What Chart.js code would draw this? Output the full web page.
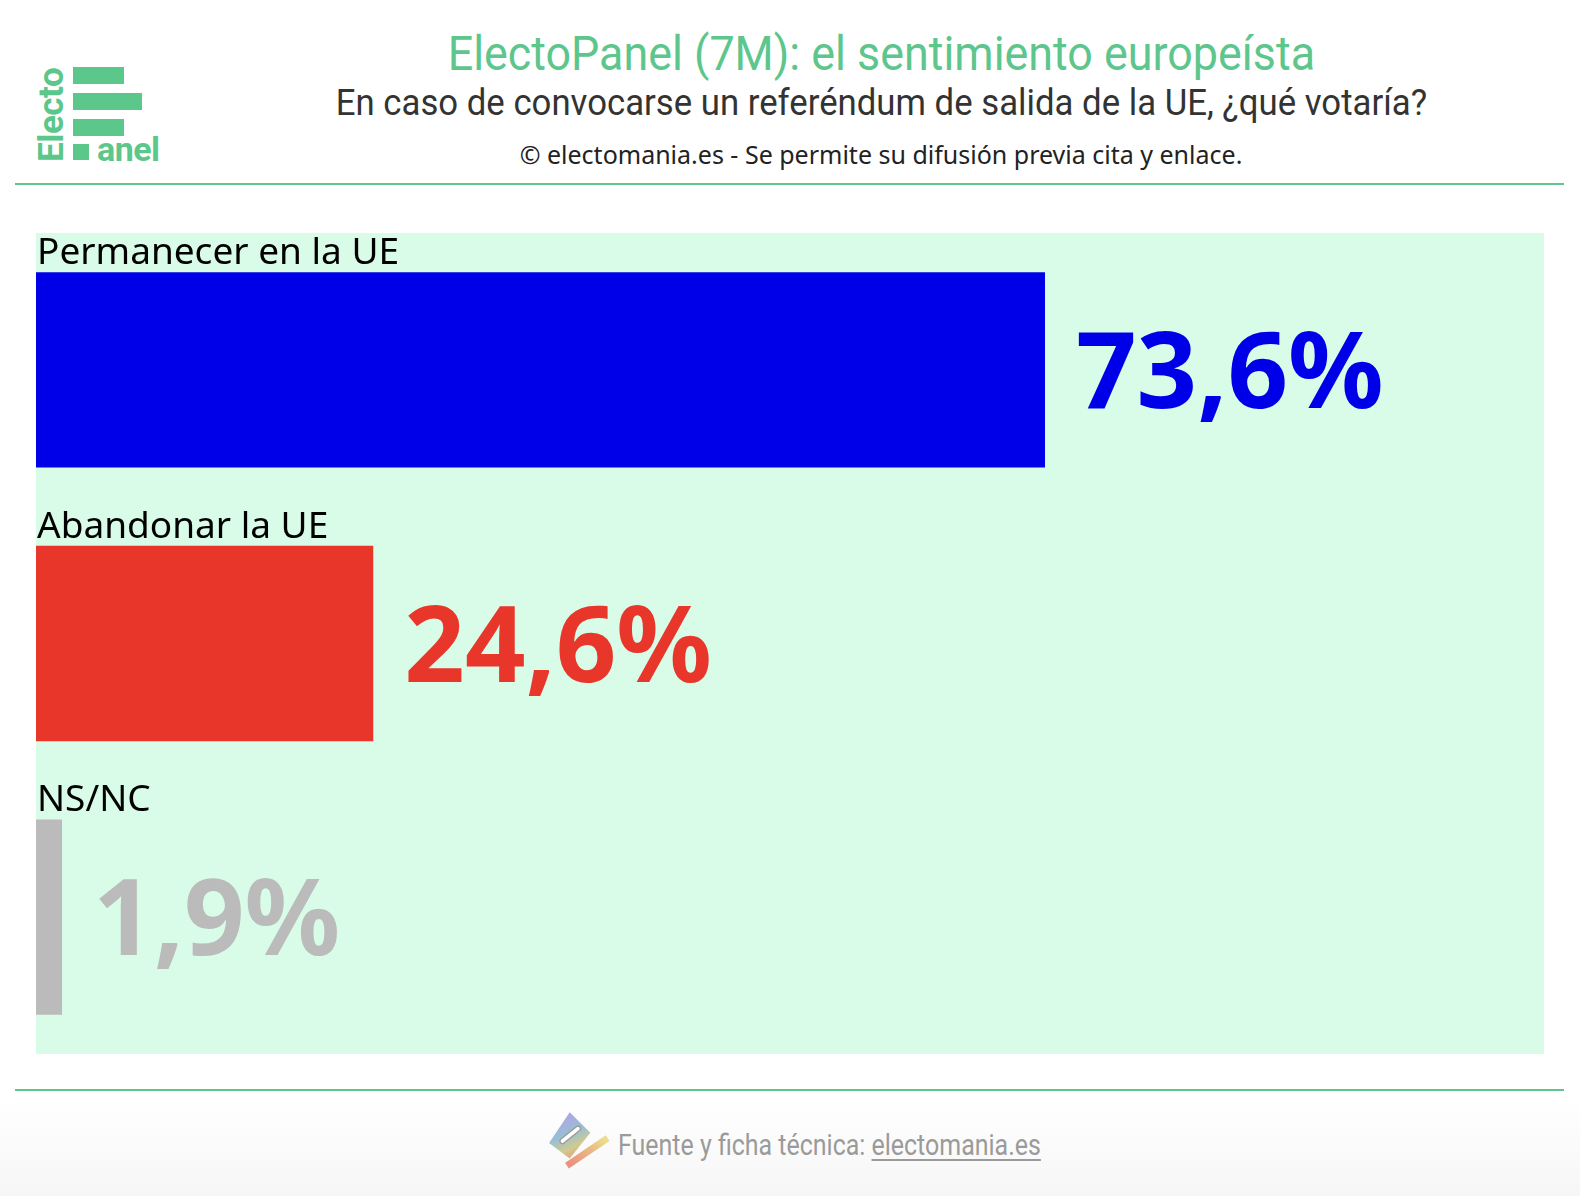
<!DOCTYPE html>
<html><head><meta charset="utf-8">
<script src="https://cdn.jsdelivr.net/npm/chart.js@4.4.1/dist/chart.umd.min.js"></script>
<style>
html,body{margin:0;padding:0;width:1580px;height:1196px;overflow:hidden;background:#fff;font-family:"Noto Sans",sans-serif;}
#page{position:relative;width:1580px;height:1196px;background:linear-gradient(to bottom,#fff 0,#fff 1100px,#f6f6f6 1196px);}
.hl{position:absolute;left:15px;width:1549px;height:2px;background:#5cc78a;}
.row{position:absolute;left:0;width:1762px;text-align:center;white-space:nowrap;}
.row span{display:inline-block;transform-origin:50% 50%;}
#title{top:25px;font-family:Roboto,sans-serif;font-size:48px;color:#5dc68c;}
#title span{transform:scaleX(0.934);}
#sub{top:82px;font-family:Roboto,sans-serif;font-size:36px;color:#333;}
#sub span{transform:scaleX(0.965);}
#copy{top:137px;font-family:"Noto Sans",sans-serif;font-size:25px;color:#222;}
#wrap{position:absolute;left:36px;top:233px;width:1508px;height:821px;background:#d9fce9;}
.lg{position:absolute;background:#5cc78a;}
#electo{position:absolute;left:37px;top:162px;transform:rotate(-90deg);transform-origin:0 0;font-family:Roboto,sans-serif;font-weight:bold;font-size:35px;color:#5cc78a;line-height:29px;letter-spacing:-0.5px;}
#anel{position:absolute;left:97px;top:129px;font-family:Roboto,sans-serif;font-weight:bold;font-size:34px;color:#5cc78a;letter-spacing:-0.5px;}
#foot{position:absolute;left:618px;top:1127px;font-family:Roboto,sans-serif;font-size:30px;color:#9a9a9a;transform:scaleX(0.832);transform-origin:0 0;white-space:nowrap;}
#foot u{text-decoration-thickness:2px;text-underline-offset:4px;}
</style></head>
<body><div id="page">
<div class="lg" style="left:73px;top:67px;width:51px;height:17px"></div>
<div class="lg" style="left:73px;top:93px;width:69px;height:17px"></div>
<div class="lg" style="left:73px;top:119px;width:51px;height:17px"></div>
<div class="lg" style="left:73px;top:144px;width:16px;height:16px"></div>
<div id="electo">Electo</div>
<div id="anel">anel</div>
<div id="title" class="row"><span>ElectoPanel (7M): el sentimiento europeísta</span></div>
<div id="sub" class="row"><span>En caso de convocarse un referéndum de salida de la UE, ¿qué votaría?</span></div>
<div id="copy" class="row"><span>© electomania.es - Se permite su difusión previa cita y enlace.</span></div>
<div class="hl" style="top:183px"></div>
<div id="wrap"><canvas id="c"></canvas></div>
<div class="hl" style="top:1089px"></div>
<svg style="position:absolute;left:547px;top:1108px" width="64" height="64" viewBox="0 0 62 62">
<defs>
<linearGradient id="g" x1="0.3" y1="0" x2="0.7" y2="1"><stop offset="0" stop-color="#a88ee2"/><stop offset="0.45" stop-color="#86b4cf"/><stop offset="0.75" stop-color="#c9c27a"/><stop offset="1" stop-color="#e8876a"/></linearGradient>
<linearGradient id="g2" x1="0" y1="1" x2="1" y2="0"><stop offset="0" stop-color="#e8806a"/><stop offset="0.6" stop-color="#e6b070"/><stop offset="1" stop-color="#ead878"/></linearGradient>
</defs>
<path d="M2 34 L22 4 L42 24 L22 49 Z" fill="url(#g)" opacity="0.85"/>
<path d="M15 32 L30 20" stroke="#999" stroke-width="6" stroke-linecap="round"/>
<path d="M15 32 L30 20" stroke="#fff" stroke-width="3.5" stroke-linecap="round"/>
<path d="M22 54 L56 31" stroke="url(#g2)" stroke-width="6.5" stroke-linecap="square" opacity="0.85"/>
</svg>
<div id="foot">Fuente y ficha técnica: <u>electomania.es</u></div>
</div>
<script>
const categories = ["Permanecer en la UE", "Abandonar la UE", "NS/NC"];
const values = [73.6, 24.6, 1.9];
const valueLabels = ["73,6%", "24,6%", "1,9%"];
const colors = ["#0000e8", "#e8372a", "#bbbbbb"];
const xMax = 110;

const labelPlugin = {
  id: 'labels',
  afterDatasetsDraw(chart) {
    const ctx = chart.ctx;
    const meta = chart.getDatasetMeta(0);
    meta.data.forEach((bar, i) => {
      const top = bar.y - bar.height / 2;
      ctx.save();
      ctx.fillStyle = '#000';
      ctx.font = '37px "Noto Sans"';
      ctx.textAlign = 'left';
      ctx.textBaseline = 'alphabetic';
      ctx.fillText(categories[i], chart.chartArea.left + 1, top - 8);
      ctx.fillStyle = colors[i];
      ctx.font = 'bold 106px "Noto Sans"';
      ctx.fillText(valueLabels[i], bar.x + 31, bar.y + 38);
      ctx.restore();
    });
  }
};

new Chart(document.getElementById('c'), {
  type: 'bar',
  data: { labels: categories, datasets: [{ data: values, backgroundColor: colors, borderWidth: 0, barPercentage: 0.714, categoryPercentage: 1 }] },
  options: {
    indexAxis: 'y', responsive: true, maintainAspectRatio: false, animation: false,
    layout: { padding: 0 },
    plugins: { legend: { display: false }, tooltip: { enabled: false } },
    scales: {
      x: { display: false, min: 0, max: xMax },
      y: { display: false }
    }
  },
  plugins: [labelPlugin]
});
</script>
</body></html>
